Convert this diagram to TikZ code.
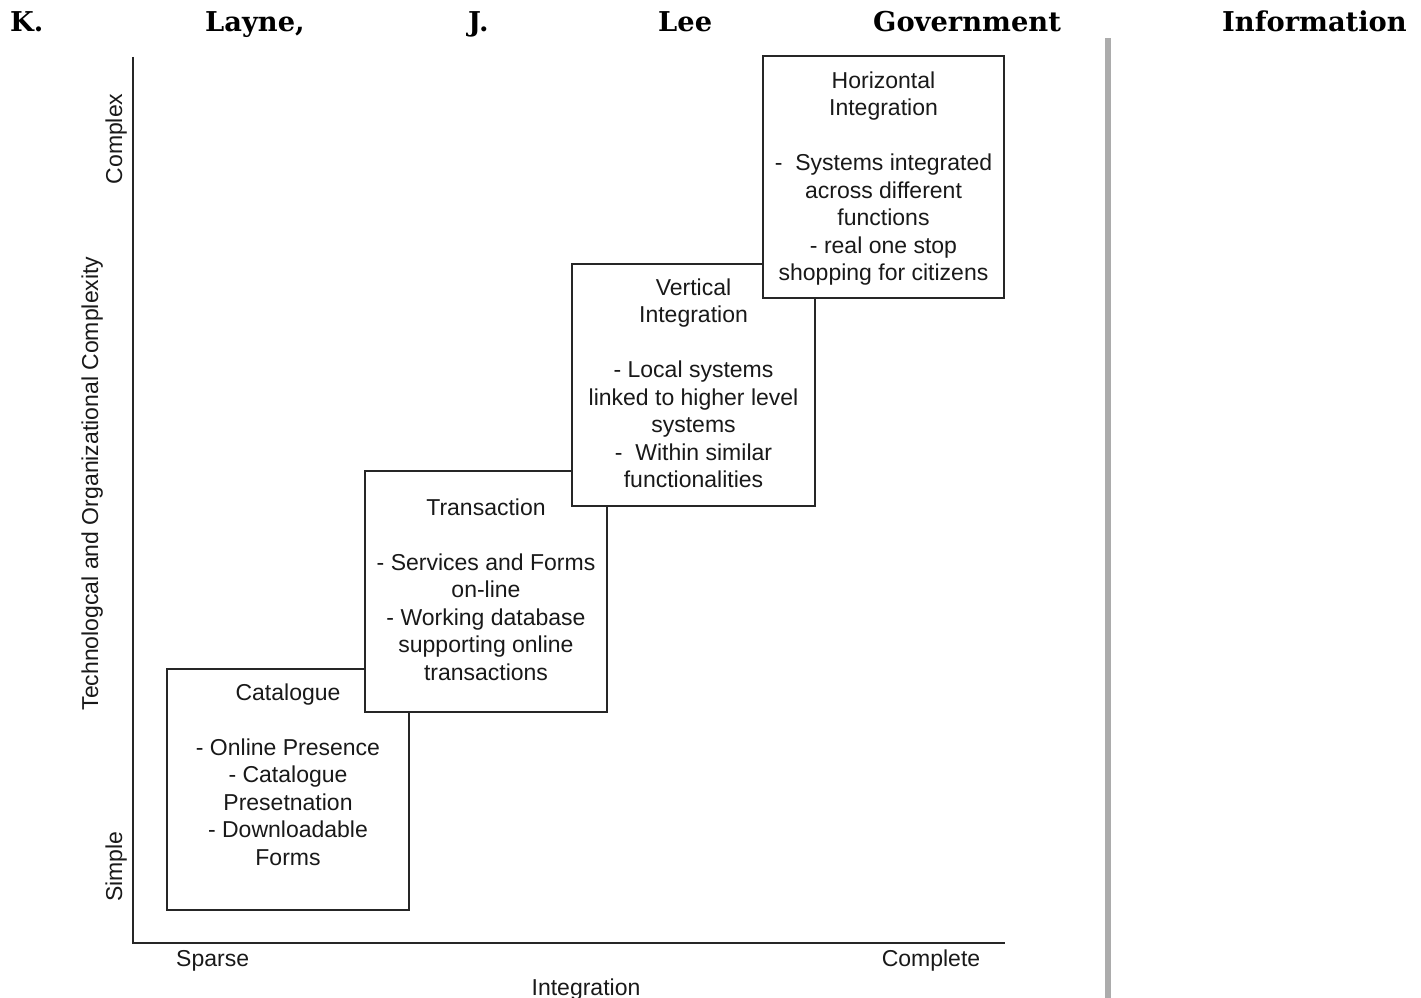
\documentclass[tikz,border=0pt]{standalone}
\usepackage{fontspec}
\setmainfont{Liberation Sans}
\newfontfamily\hdrfont{DejaVu Serif}
\begin{document}
\begin{tikzpicture}[x=1pt,y=-1pt,
  stagebox/.style={draw=black!85, line width=1.8pt, fill=white},
  boxtext/.style={anchor=north, inner sep=0pt, align=center, text=black!90,
    font=\fontsize{23}{27.5}\selectfont},
  axislabel/.style={inner sep=0pt, text=black!90, font=\fontsize{23}{27.5}\selectfont},
  hdr/.style={anchor=base west, inner sep=0pt, font=\hdrfont\bfseries\fontsize{27.3}{30}\selectfont},
  axis/.style={draw=black!85, line width=2.4pt}
]
\useasboundingbox (0,0) rectangle (1421,998);
\fill[white] (0,0) rectangle (1421,998);

% header
\node[hdr] (h1) at (10,32) {K.};
\node[hdr] (h2) at (205,32) {Layne,};
\node[hdr] (h3) at (468,32) {J.};
\node[hdr] (h4) at (658,32) {Lee};
\node[hdr] (h5) at (873,32) {Government};
\node[hdr] (h6) at (1222,32) {Information};

% grey column rule
\fill[gray!65] (1105,38) rectangle (1111,998);

% axes
\coordinate (ytop) at (133,57);
\coordinate (orig) at (133,943);
\coordinate (xend) at (1005,943);
\draw[axis] (ytop) -- (orig) -- (xend);

% axis labels
\node[axislabel, rotate=90, anchor=base] (cplx) at (122,139) {Complex};
\node[axislabel, rotate=90, anchor=base] (ylab) at (98,483.5) {Technologcal and Organizational Complexity};
\node[axislabel, rotate=90, anchor=base] (simp) at (122,866.5) {Simple};
\node[axislabel, anchor=base west] (sparse) at (176,966) {Sparse};
\node[axislabel, anchor=base] (compl) at (931,966) {Complete};
\node[axislabel, anchor=base] (xlab) at (586,995) {Integration};

% stages
\draw[stagebox] (167,669) rectangle (409,910);
\node[boxtext] (cat) at (288,683) {\rule{0pt}{17pt}Catalogue\\[27.5pt]- Online Presence\\- Catalogue\\Presetnation\\- Downloadable\\Forms};

\draw[stagebox] (365,471) rectangle (607,712);
\node[boxtext] (tra) at (486,498) {\rule{0pt}{17pt}Transaction\\[27.5pt]- Services and Forms\\on-line\\- Working database\\supporting online\\transactions};

\draw[stagebox] (572,264) rectangle (815,506);
\node[boxtext] (ver) at (693.5,278) {\rule{0pt}{17pt}Vertical\\Integration\\[27.5pt]- Local systems\\linked to higher level\\systems\\-\ \ Within similar\\functionalities};

\draw[stagebox] (763,56) rectangle (1004,298);
\node[boxtext] (hor) at (883.5,71) {\rule{0pt}{17pt}Horizontal\\Integration\\[27.5pt]-\ \ Systems integrated\\across different\\functions\\- real one stop\\shopping for citizens};
\end{tikzpicture}
\end{document}
